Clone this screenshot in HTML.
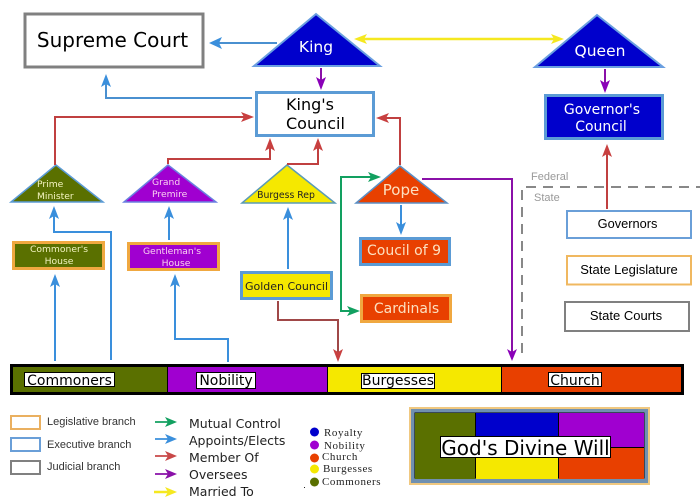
<!DOCTYPE html>
<html><head><meta charset="utf-8"><style>
html,body{margin:0;padding:0;background:#fff}
svg{display:block}
text{font-family:"DejaVu Sans","Liberation Sans",sans-serif}
.l{font-family:"Liberation Sans",sans-serif}
.s{font-family:"Liberation Serif",serif;font-size:11px;letter-spacing:.6px;fill:#222}
</style></head><body>
<svg width="700" height="500" viewBox="0 0 700 500" xmlns="http://www.w3.org/2000/svg">
<rect width="700" height="500" fill="#fff"/>

<!-- Top nodes -->
<rect x="25" y="14" width="178" height="53" fill="#fff" stroke="#808080" stroke-width="3"/>
<text x="112.500" y="47" font-size="20" text-anchor="middle" fill="#000">Supreme Court</text>
<polygon points="316,14 380,66 254,66" fill="#0000cc" stroke="#6a9fe0" stroke-width="2"/>
<text x="316" y="52" font-size="15.500" text-anchor="middle" fill="#fff">King</text>
<polygon points="597,15 663,67 535,67" fill="#0000cc" stroke="#6a9fe0" stroke-width="2"/>
<text x="600" y="56" font-size="15.500" text-anchor="middle" fill="#fff">Queen</text>
<rect x="256.500" y="92.500" width="117" height="43" fill="#fff" stroke="#5b9bd5" stroke-width="3"/>
<text x="286" y="110" font-size="16" fill="#000">King's</text>
<text x="286" y="129" font-size="16" fill="#000">Council</text>
<rect x="545.500" y="95.500" width="117" height="43" fill="#0000cc" stroke="#5b9bd5" stroke-width="3"/>
<text x="602" y="114" font-size="14" text-anchor="middle" fill="#fff">Governor's</text>
<text x="601" y="131" font-size="14" text-anchor="middle" fill="#fff">Council</text>

<!-- Triangles row -->
<polygon points="56,165 103,202 11,202" fill="#5a7000" stroke="#5b9bd5" stroke-width="1.500"/>
<text x="37" y="187" font-size="9.200" fill="#f4f4c0">Prime</text>
<text x="37" y="199" font-size="9.200" fill="#f4f4c0">Minister</text>
<polygon points="168,165 216,202 124,202" fill="#a000d0" stroke="#6a80e0" stroke-width="1.500"/>
<text x="152" y="185" font-size="9.200" fill="#fad0f0">Grand</text>
<text x="152" y="197" font-size="9.200" fill="#fad0f0">Premire</text>
<polygon points="287,165 335,203 242,203" fill="#f5e800" stroke="#5b9bb5" stroke-width="1.500"/>
<text x="286" y="198" font-size="9.300" text-anchor="middle" fill="#222">Burgess Rep</text>
<polygon points="400,166 447,203 356,203" fill="#e84000" stroke="#5b8fc5" stroke-width="1.500"/>
<text x="401" y="195" font-size="15" text-anchor="middle" fill="#fce0c0">Pope</text>

<!-- Boxes -->
<rect x="13.500" y="242.500" width="90" height="26" fill="#5a7000" stroke="#f0a840" stroke-width="3"/>
<text x="59" y="252" font-size="9.200" text-anchor="middle" fill="#f4f4c0">Commoner's</text>
<text x="59" y="264" font-size="9.200" text-anchor="middle" fill="#f4f4c0">House</text>
<rect x="128.500" y="243.500" width="90" height="26" fill="#a000d0" stroke="#f0a840" stroke-width="3"/>
<text x="172" y="254" font-size="9.200" text-anchor="middle" fill="#fad0f0">Gentleman's</text>
<text x="176" y="266" font-size="9.200" text-anchor="middle" fill="#fad0f0">House</text>
<rect x="241.500" y="272.500" width="90" height="26" fill="#f5e800" stroke="#5b9bd5" stroke-width="3"/>
<text x="286.500" y="290" font-size="11" text-anchor="middle" fill="#222">Golden Council</text>
<rect x="360.500" y="238.500" width="89" height="26" fill="#e84000" stroke="#5b9bd5" stroke-width="3"/>
<text x="404" y="255" font-size="14" text-anchor="middle" fill="#fce0c0">Coucil of 9</text>
<rect x="361.500" y="295.500" width="89" height="26" fill="#e84000" stroke="#f0a840" stroke-width="3"/>
<text x="406.500" y="313" font-size="14" text-anchor="middle" fill="#fce0c0">Cardinals</text>

<!-- State boxes -->
<path d="M522,353 V187 H700" fill="none" stroke="#888" stroke-width="2" stroke-dasharray="10 7"/>
<text class="l" x="531" y="180" font-size="11" fill="#999">Federal</text>
<text class="l" x="534" y="201" font-size="11" fill="#999">State</text>
<rect x="567" y="211" width="124" height="27" fill="#fff" stroke="#6a9fd8" stroke-width="2"/>
<text class="l" x="627.500" y="228" font-size="12.800" text-anchor="middle" fill="#000">Governors</text>
<rect x="567" y="256" width="124" height="28.500" fill="#fff" stroke="#f0b860" stroke-width="2"/>
<text class="l" x="629" y="274" font-size="13" text-anchor="middle" fill="#000">State Legislature</text>
<rect x="565" y="302" width="124" height="29" fill="#fff" stroke="#808080" stroke-width="2"/>
<text class="l" x="626" y="320" font-size="13" text-anchor="middle" fill="#000">State Courts</text>

<!-- Connectors: blue -->
<g stroke="#3a8fdc" fill="none" stroke-width="2">
<path d="M277,43 H215" stroke="#4a90d0"/>
<path d="M252,98 H106 V80" stroke="#4a90d0"/>
<path d="M54,212 V232 H111 V360"/>
<path d="M55,361 V280"/>
<path d="M169,240 V212"/>
<path d="M228,362 V339 H175 V280"/>
<path d="M288,269 V212"/>
<path d="M401,205 V226"/>
</g>
<g fill="#3a8fdc">
<polygon points="209,43 222,37 219,43 222,49"/>
<polygon points="106,74 111,87 106,84 101,87"/>
<polygon points="54,206 59,219 54,216 49,219"/>
<polygon points="55,274 60,287 55,284 50,287"/>
<polygon points="169,206 174,219 169,216 164,219"/>
<polygon points="175,274 180,287 175,284 170,287"/>
<polygon points="288,207 293,220 288,217 283,220"/>
<polygon points="401,235 396,222 401,225 406,222"/>
</g>

<!-- red -->
<g stroke="#c04040" fill="none" stroke-width="2">
<path d="M55,165 V117 H248"/>
<path d="M168,164 V159 H270 V145"/>
<path d="M287,164 H318 V145"/>
<path d="M400,165 V118 H384"/>
<path d="M607,209 V150"/>
<path d="M278,301 V320 H338 V352" stroke="#a04848"/>
</g>
<g fill="#c84040">
<polygon points="254,117 241,112 244,117 241,122"/>
<polygon points="270,138 275,151 270,148 265,151"/>
<polygon points="318,138 323,151 318,148 313,151"/>
<polygon points="376,118 389,113 386,118 389,123"/>
<polygon points="607,144 612,157 607,154 602,157"/>
<polygon points="338,362 333,349 338,352 343,349"/>
</g>

<!-- green -->
<path d="M375,177 H341 V311 H354" fill="none" stroke="#12a060" stroke-width="2"/>
<polygon points="381,177 368,172 371,177 368,182" fill="#12a060"/>
<polygon points="360,311 347,306 350,311 347,316" fill="#12a060"/>

<!-- purple -->
<g stroke="#8a10a8" fill="none" stroke-width="2">
<path d="M321,68 V82"/>
<path d="M605,69 V84"/>
<path d="M422,179 H512 V352"/>
</g>
<g fill="#8a00b8">
<polygon points="321,90 316,77 321,80 326,77"/>
<polygon points="605,93 600,80 605,83 610,80"/>
<polygon points="512,361 507,349 512,352 517,349"/>
</g>

<!-- yellow -->
<path d="M360,39 H558" stroke="#f5e820" stroke-width="2.500" fill="none"/>
<polygon points="354,39 367,34 364,39 367,44" fill="#f5e820"/>
<polygon points="564,39 551,34 554,39 551,44" fill="#f5e820"/>

<!-- Bar -->
<rect x="10" y="364" width="674" height="31" fill="#000"/>
<rect x="13" y="367" width="154" height="25" fill="#5a7000"/>
<rect x="168" y="367" width="159" height="25" fill="#a000d0"/>
<rect x="328" y="367" width="173" height="25" fill="#f5e800"/>
<rect x="502" y="367" width="179" height="25" fill="#e84000"/>
<rect x="24.500" y="372.500" width="90" height="14" fill="#fff" stroke="#000"/>
<text x="69.500" y="385" font-size="14" text-anchor="middle" fill="#000">Commoners</text>
<rect x="196.500" y="372.500" width="59" height="16" fill="#fff" stroke="#000"/>
<text x="226" y="385" font-size="14" text-anchor="middle" fill="#000">Nobility</text>
<rect x="361.500" y="373.500" width="73" height="15" fill="#fff" stroke="#000"/>
<text x="398" y="385" font-size="14" text-anchor="middle" fill="#000">Burgesses</text>
<rect x="548.500" y="372.500" width="53" height="14" fill="#fff" stroke="#000"/>
<text x="575" y="385" font-size="14" text-anchor="middle" fill="#000">Church</text>

<!-- Legend 1 -->
<rect x="11" y="416" width="29" height="13" fill="#fff" stroke="#eab060" stroke-width="2"/>
<rect x="11" y="438" width="29" height="13" fill="#fff" stroke="#6a9fd8" stroke-width="2"/>
<rect x="11" y="461" width="29" height="13" fill="#fff" stroke="#808080" stroke-width="2"/>
<text class="l" x="47" y="425" font-size="11" fill="#333">Legislative branch</text>
<text class="l" x="47" y="448" font-size="11" fill="#333">Executive branch</text>
<text class="l" x="47" y="470" font-size="11" fill="#333">Judicial branch</text>

<!-- Legend 2 -->
<g stroke-width="1.800">
<path d="M155,422 H172" stroke="#12a060"/>
<path d="M155,439 H172" stroke="#3a8fdc"/>
<path d="M155,456 H172" stroke="#c84848"/>
<path d="M155,474 H172" stroke="#8a10a8"/>
<path d="M154,492 H172" stroke="#f5e820" stroke-width="2.500"/>
</g>
<polygon points="177,422 165,417 168,422 165,427" fill="#12a060"/>
<polygon points="177,439 165,434 168,439 165,444" fill="#3a8fdc"/>
<polygon points="177,456 165,451 168,456 165,461" fill="#c84848"/>
<polygon points="177,474 165,469 168,474 165,479" fill="#8a10a8"/>
<polygon points="177,492 165,487 168,492 165,497" fill="#f5e820"/>
<text x="189" y="428" font-size="12.500" fill="#222">Mutual Control</text>
<text x="189" y="445" font-size="12.500" fill="#222">Appoints/Elects</text>
<text x="189" y="462" font-size="12.500" fill="#222">Member Of</text>
<text x="189" y="479" font-size="12.500" fill="#222">Oversees</text>
<text x="189" y="496" font-size="12.500" fill="#222">Married To</text>

<!-- Legend 3 -->
<circle cx="314.500" cy="432" r="4.500" fill="#0000cc"/>
<circle cx="314.500" cy="445" r="4.500" fill="#a000d0"/>
<circle cx="314.500" cy="458" r="4.500" fill="#e84000"/>
<circle cx="314.500" cy="469" r="4.500" fill="#f5e800"/>
<circle cx="314.500" cy="482" r="4.500" fill="#5a7000"/>
<text class="s" x="324" y="436">Royalty</text>
<text class="s" x="324" y="449">Nobility</text>
<text class="s" x="322" y="460">Church</text>
<text class="s" x="323" y="472">Burgesses</text>
<text class="s" x="322" y="485">Commoners</text>
<rect x="304" y="487" width="1" height="1" fill="#222"/>

<!-- God's box -->
<rect x="409" y="407" width="241" height="78" fill="#f0c880"/>
<rect x="411" y="409" width="237" height="74" fill="#7090b0"/>
<rect x="414.500" y="412.500" width="230" height="66" fill="#000"/>
<rect x="415" y="413" width="60" height="66" fill="#5a7000"/>
<rect x="476" y="413" width="82" height="37" fill="#0000cc"/>
<rect x="559" y="413" width="85" height="34" fill="#a000d0"/>
<rect x="476" y="448" width="82" height="31" fill="#f5e800"/>
<rect x="559" y="448" width="85" height="31" fill="#e84000"/>
<rect x="440.500" y="436.500" width="170" height="21" fill="#fff" stroke="#000"/>
<text x="525.500" y="455" font-size="20" text-anchor="middle" fill="#000">God's Divine Will</text>
</svg>
</body></html>
